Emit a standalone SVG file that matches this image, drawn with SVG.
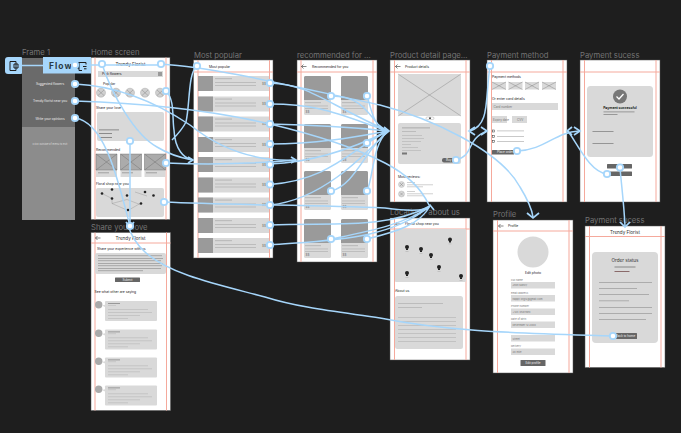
<svg xmlns="http://www.w3.org/2000/svg" width="681" height="433" viewBox="0 0 681 433">
<style>
text{font-family:"Inter","Liberation Sans",sans-serif}
.t{font-size:7.700px;fill:#747474}
.f{fill:#fff;stroke:#555;stroke-width:.5}
.g{stroke:#f5a99c;stroke-width:1;fill:none}
.c{fill:#d9d9d9}
.m{fill:#9a9a9a}
.d{fill:#666}
.l{fill:#bcbcbc}
.x{stroke:#777;stroke-width:.4;fill:none}
.s{font-size:3.400px;fill:#222}
.s2{font-size:3px;fill:#777}
.b{font-size:4.600px;fill:#333}
.w{font-size:3px;fill:#eee}
.k{fill:none;stroke:#a6d6fb;stroke-width:1.500}
.o{fill:#fff;stroke:#a6d6fb;stroke-width:1.800}
.a{fill:none;stroke:#a6d6fb;stroke-width:1.700}
</style>
<defs>
<g id="row"><rect width="71" height="15" class="c"/><rect width="15" height="15" class="m"/><rect x="17" y="2" width="17" height="1.200" class="l"/><rect x="17" y="6" width="41" height="1" class="l"/><rect x="17" y="9" width="41" height="1" class="l"/><text x="64" y="8.500" class="s2">$$</text></g>
<g id="card"><rect width="27" height="39" rx="1.500" class="c"/><path d="M0 1.500a1.500 1.500 0 0 1 1.500-1.500h24a1.500 1.500 0 0 1 1.500 1.500v22.500h-27z" class="m"/><rect x="1" y="26" width="16" height="1.200" class="l"/><rect x="1" y="29.500" width="23" height=".9" class="l"/><rect x="1" y="32" width="23" height=".9" class="l"/><text x="1.500" y="37" class="s2">$$</text></g>
<g id="cm"><circle cx="3.700" cy="3.700" r="3.700" fill="#aaa"/><path d="M7 4.500l4 2v-3z" class="c"/><rect x="10" y="0" width="52" height="20" rx="1" class="c"/><rect x="13" y="2" width="12" height=".8" fill="#888"/><rect x="13" y="4" width="8" height=".6" class="l"/><rect x="13" y="8" width="40" height=".7" class="l"/><rect x="13" y="11" width="44" height=".7" class="l"/><rect x="13" y="14" width="32" height=".7" class="l"/><rect x="13" y="17" width="20" height=".7" class="l"/></g>
<g id="ph"><rect width="14" height="7.500" class="c"/><path d="M0 0l14 7.500M14 0L0 7.500" class="x"/></g>
<g id="pin"><circle r="2" fill="#222"/><path d="M-1 1.500h2v1.500h-2z" fill="#222"/><rect x="-1.500" y="4" width="3" height=".8" class="l"/></g>
<g id="back"><path d="M-2.500 0h5M-2.500 0l2-2M-2.500 0l2 2" stroke="#333" stroke-width=".6" fill="none"/></g>
</defs>
<rect width="681" height="433" fill="#1e1e1e"/>

<g id="frame-1"><text x="22" y="55" class="t">Frame 1</text>
<rect x="22" y="58" width="53" height="69" fill="#6a6a6a"/><rect x="22" y="127" width="53" height="93" fill="#8c8c8c"/>
<text x="50" y="85" text-anchor="middle" style="font-size:3.200px" fill="#eee">Suggested flowers</text>
<text x="50" y="102" text-anchor="middle" style="font-size:3.200px" fill="#eee">Trendy florist near you</text>
<text x="50" y="119.500" text-anchor="middle" style="font-size:3.200px" fill="#eee">Write your opinions</text>
<text x="50" y="144.500" text-anchor="middle" style="font-size:2.600px" fill="#ddd">Click outside of menu to exit</text></g>

<g id="home-screen"><text x="91" y="54.500" class="t">Home screen</text>
<rect x="91" y="57.500" width="79" height="162" class="f"/>
<path class="g" d="M95 57.500v162M166 57.500v162"/>
<text x="130.500" y="66" text-anchor="middle" class="b">Trendy Florist</text>
<rect x="98" y="71" width="65" height="6" class="c"/><text x="102" y="75.300" class="s">Pick flowers</text><rect x="158" y="72" width="4" height="4" class="m"/>
<text x="103" y="85" class="s">Popular</text>
<g fill="#d0d0d0" stroke="#999" stroke-width=".4"><circle cx="101" cy="92.700" r="4.500"/><circle cx="116" cy="92.700" r="4.500"/><circle cx="130" cy="92.700" r="4.500"/><circle cx="145" cy="92.700" r="4.500"/><circle cx="160" cy="92.700" r="4.500"/></g>
<path class="x" d="M98 90l6 5.500M104 90l-6 5.500M113 90l6 5.500M119 90l-6 5.500M127 90l6 5.500M133 90l-6 5.500M142 90l6 5.500M148 90l-6 5.500M157 90l6 5.500M163 90l-6 5.500"/>
<text x="96" y="108.500" class="s">Share your love</text>
<rect x="97" y="112" width="67" height="29" rx="2" class="c"/>
<rect x="99" y="129.500" width="20" height=".8" fill="#777"/><rect x="99" y="133" width="13" height=".8" fill="#777"/><rect x="99" y="137" width="13" height=".8" fill="#777"/>
<text x="96" y="151" class="s">Recommended</text>
<g class="c"><rect x="96" y="154" width="21" height="23"/><rect x="120.500" y="154" width="21" height="23"/><rect x="144.500" y="154" width="21" height="23"/></g>
<g fill="#ababab" stroke="#666" stroke-width=".4"><path d="M96 154h21v16h-21zl21 16M117 154l-21 16"/><path d="M120.500 154h21v16h-21zl21 16M141.500 154l-21 16"/><path d="M144.500 154h21v16h-21zl21 16M165.500 154l-21 16"/></g>
<rect x="98" y="172.500" width="11" height=".7" fill="#888"/><rect x="122" y="172.500" width="11" height=".7" fill="#888"/><rect x="146" y="172.500" width="11" height=".7" fill="#888"/>
<text x="96" y="185" class="s">Floral shop near you</text>
<rect x="96" y="188" width="68" height="29" rx="2" class="c"/>
<path d="M102 193.500l10 5v5l16 7 12-7M112 203.500l15-4 13 5M135 192l12 4" stroke="#777" stroke-width=".3" fill="none"/>
<g fill="#222"><circle cx="102" cy="193.500" r="1.300"/><circle cx="112" cy="189.500" r="1.300"/><circle cx="112" cy="198.500" r="1.300"/><circle cx="127" cy="195.500" r="1.300"/><circle cx="141" cy="203.500" r="1.300"/><circle cx="128" cy="210" r="1.300"/><circle cx="145" cy="192" r="1.300"/><circle cx="153.500" cy="195.500" r="1.300"/></g></g>

<g id="share-your-love"><text x="91" y="229.500" class="t">Share your love</text>
<rect x="91" y="232.500" width="79.500" height="178" class="f"/>
<path class="g" d="M95 232.500v178M166.500 232.500v178M91 243h79.500"/>
<use href="#back" x="98" y="238"/>
<text x="130.500" y="240" text-anchor="middle" class="b">Trendy Florist</text>
<text x="97" y="249.500" class="s">Share your experience with us</text>
<rect x="95" y="253" width="71" height="21" rx="2" class="c"/>
<g fill="#888"><rect x="98" y="255.500" width="64" height=".6"/><rect x="98" y="258" width="65" height=".6"/><rect x="98" y="260.500" width="63" height=".6"/><rect x="98" y="263" width="65" height=".6"/><rect x="98" y="265.500" width="64" height=".6"/><rect x="98" y="268" width="63" height=".6"/><rect x="98" y="270.500" width="45" height=".6"/></g>
<rect x="115" y="277.500" width="25" height="4.500" rx=".5" class="d"/><text x="127.500" y="280.800" text-anchor="middle" class="w">Submit</text>
<text x="94.500" y="293" class="s">See what other are saying</text>
<use href="#cm" x="95" y="301"/><use href="#cm" x="95" y="329.500"/><use href="#cm" x="95" y="357.500"/><use href="#cm" x="95" y="385.500"/></g>

<g id="most-popular"><text x="194" y="57.500" class="t">Most popular</text>
<rect x="193.500" y="60" width="79.500" height="198" class="f"/>
<path class="g" d="M198 60v198M269.500 60v198M193.500 72h79.500"/>
<text x="209" y="67.500" class="s">Most popular</text>
<use href="#row" x="198" y="76"/><use href="#row" x="198" y="96.500"/><use href="#row" x="198" y="116.500"/><use href="#row" x="198" y="137"/><use href="#row" x="198" y="157"/><use href="#row" x="198" y="177.500"/><use href="#row" x="198" y="197.500"/><use href="#row" x="198" y="218"/><use href="#row" x="198" y="238"/></g>

<g id="recommended"><text x="297" y="57.500" class="t">recommended for ...</text>
<rect x="297" y="60" width="80" height="202" class="f"/>
<path class="g" d="M301 60v202M373 60v202M297 72h80"/>
<use href="#back" x="304" y="66.500"/><text x="312" y="67.500" class="s">Recommended for you</text>
<use href="#card" x="304" y="76"/><use href="#card" x="341" y="76"/><use href="#card" x="304" y="124"/><use href="#card" x="341" y="124"/><use href="#card" x="304" y="171"/><use href="#card" x="341" y="171"/><use href="#card" x="304" y="219"/><use href="#card" x="341" y="219"/></g>

<g id="product-detail"><text x="390" y="57.500" class="t">Product detail page...</text>
<rect x="390" y="60" width="80" height="142" class="f"/>
<path class="g" d="M394.500 60v142M466 60v142M390 72h80"/>
<use href="#back" x="398" y="66.500"/><text x="405" y="67.500" class="s">Product details</text>
<rect x="398" y="74" width="63" height="42" rx="2" class="c"/><path class="x" d="M398 74l63 42M461 74l-63 42"/>
<rect x="426" y="117" width="8" height="2.500" rx="1.200" fill="#fff" stroke="#777" stroke-width=".3"/><circle cx="430" cy="118.200" r=".9" fill="#333"/>
<rect x="398" y="123" width="63" height="41" rx="2" class="c"/>
<rect x="402" y="127" width="28" height="1.600" class="l"/><rect x="402" y="131" width="14" height="1" class="l"/><rect x="402" y="135" width="20" height=".8" class="l"/><rect x="402" y="138" width="22" height=".8" class="l"/><rect x="402" y="141" width="19" height=".8" class="l"/><rect x="402" y="144" width="9" height=".8" class="l"/><rect x="402" y="147" width="16" height=".8" class="l"/><rect x="402" y="150" width="19" height=".8" class="l"/>
<rect x="402" y="152.500" width="5" height="2" fill="#777"/>
<rect x="442" y="158" width="16" height="4.500" rx="2" class="d"/><text x="446" y="161.200" class="w">Buy</text>
<text x="398" y="178" class="s">Most reviews:</text>
<circle cx="401.500" cy="184.500" r="3" class="c" stroke="#999" stroke-width=".3"/><path class="x" d="M400 183l3 3M403 183l-3 3"/><circle cx="401.500" cy="194" r="3" class="c" stroke="#999" stroke-width=".3"/><path class="x" d="M400 192.500l3 3M403 192.500l-3 3"/>
<rect x="407" y="182" width="8" height=".7" class="l"/><rect x="407" y="184.500" width="26" height=".7" class="l"/><rect x="407" y="186.500" width="16" height=".7" class="l"/><rect x="407" y="191" width="8" height=".7" class="l"/><rect x="407" y="193.500" width="26" height=".7" class="l"/><rect x="407" y="195.500" width="16" height=".7" class="l"/></g>

<g id="payment-method"><text x="487" y="57.500" class="t">Payment method</text>
<rect x="487" y="60" width="80" height="142" class="f"/>
<path class="g" d="M491.500 60v142M563 60v142M487 72h80"/>
<text x="492" y="77.500" class="s">Payment methods</text>
<use href="#ph" x="492" y="82"/><use href="#ph" x="508.500" y="82"/><use href="#ph" x="525" y="82"/><use href="#ph" x="542" y="82"/>
<text x="492" y="99.500" class="s">Or enter card details</text>
<rect x="492" y="103" width="66" height="7" class="c"/><text x="493.500" y="107.500" class="s2">Card number</text>
<rect x="492" y="116" width="15" height="7" class="c"/><text x="493" y="120.500" class="s2">Expiry date</text>
<rect x="512" y="116" width="15" height="7" class="c"/><text x="517" y="120.500" class="s2">CVV</text>
<g fill="none" stroke="#333" stroke-width=".5"><rect x="492.500" y="130" width="2" height="2"/><rect x="492.500" y="135.500" width="2" height="2"/><rect x="492.500" y="140.500" width="2" height="2"/></g>
<rect x="497" y="130.500" width="27" height=".8" class="l"/><rect x="497" y="136" width="27" height=".8" class="l"/><rect x="497" y="141" width="27" height=".8" class="l"/>
<rect x="492" y="150" width="22" height="4.500" rx=".5" class="d"/><text x="497" y="153.300" class="w">Place order</text></g>

<g id="payment-success"><text x="580" y="57.500" class="t">Payment sucess</text>
<rect x="580" y="60" width="80" height="142" class="f"/>
<path class="g" d="M584.500 60v142M656 60v142M580 72h80"/>
<rect x="587" y="86" width="66" height="71" rx="3.500" class="c"/>
<circle cx="620" cy="96.500" r="7" fill="#777"/><path d="M616.500 96.500l2.500 2.500 4.500-5" stroke="#fff" stroke-width="1.300" fill="none"/>
<text x="620" y="108.500" text-anchor="middle" class="s" style="font-weight:700">Payment successful</text>
<rect x="603.500" y="111.500" width="31" height=".8" fill="#888"/><rect x="603.500" y="114" width="14" height=".8" fill="#888"/>
<rect x="592.500" y="131" width="21" height=".7" fill="#777"/><rect x="592.500" y="143" width="21" height=".7" fill="#777"/>
<rect x="607" y="164" width="25" height="4.500" rx=".5" class="d"/><rect x="607" y="171.500" width="25" height="4.500" rx=".5" class="d"/></g>

<g id="location"><text x="390" y="214.500" class="t">Location / about us</text>
<rect x="390" y="218" width="80" height="142" class="f"/>
<path class="g" d="M394.500 218v142M466 218v142M390 229h80"/>
<use href="#back" x="398" y="224"/><text x="405" y="225" class="s">Florist shop near you</text>
<rect x="395" y="229" width="71" height="53" rx="1" class="c"/>
<use href="#pin" x="407" y="247"/><use href="#pin" x="421" y="249"/><use href="#pin" x="431" y="255"/><use href="#pin" x="439" y="267"/><use href="#pin" x="407" y="273"/><use href="#pin" x="461" y="276"/><use href="#pin" x="450" y="239.500"/>
<text x="395" y="292" class="s">About us</text>
<rect x="395" y="296" width="68" height="53" rx="2.500" class="c"/>
<rect x="398" y="303" width="45" height="1" class="l"/><rect x="398" y="307" width="24" height="1" class="l"/>
<g class="l"><rect x="398" y="317" width="58" height=".8"/><rect x="398" y="321" width="58" height=".8"/><rect x="398" y="325" width="58" height=".8"/><rect x="398" y="329" width="58" height=".8"/><rect x="398" y="333" width="58" height=".8"/><rect x="398" y="337" width="58" height=".8"/><rect x="398" y="341" width="58" height=".8"/></g></g>

<g id="profile"><text x="493" y="217" class="t">Profile</text>
<rect x="493" y="220" width="80" height="153" class="f"/>
<path class="g" d="M497.500 220v153M569 220v153M493 231h80"/>
<use href="#back" x="501" y="226"/><text x="508" y="227.300" class="s">Profile</text>
<circle cx="533" cy="252" r="15.500" class="c"/>
<text x="533" y="273.500" text-anchor="middle" class="s">Edit photo</text>
<g class="c"><rect x="511" y="282" width="44" height="6.500"/><rect x="511" y="295" width="44" height="6.500"/><rect x="511" y="308.500" width="44" height="6.500"/><rect x="511" y="321.500" width="44" height="6.500"/><rect x="511" y="335" width="44" height="6.500"/><rect x="511" y="348.500" width="44" height="6.500"/></g>
<g style="font-size:2.600px" fill="#777"><text x="511" y="280.500">Full name</text><text x="511" y="293.500">Email address</text><text x="511" y="307">Phone number</text><text x="511" y="320">Date of birth</text><text x="511" y="347">Delivery</text>
<text x="512.500" y="286">Jhon Nancy</text><text x="512.500" y="299.500">happy.org12@gmail.com</text><text x="512.500" y="313">+123 4567890</text><text x="512.500" y="326">December 12 2000</text><text x="512.500" y="339.500">Street</text><text x="512.500" y="353">20 mile</text></g>
<rect x="520.500" y="360" width="25" height="6" rx=".5" class="d"/><text x="533" y="364" text-anchor="middle" class="w">Edit profile</text></g>

<g id="payment-sucess-2"><text x="585" y="222.500" class="t">Payment sucess</text>
<rect x="585" y="226" width="80" height="141.500" class="f"/>
<path class="g" d="M589.500 226v141.500M661 226v141.500M585 236.500h80"/>
<text x="625" y="233.500" text-anchor="middle" class="b">Trendy Florist</text>
<rect x="592" y="252" width="66" height="91" rx="4" class="c"/>
<text x="625" y="261.500" text-anchor="middle" class="b">Order status</text>
<rect x="614.500" y="266.500" width="21" height="1" fill="#888"/><rect x="614.500" y="271" width="15" height="1" fill="#8a6a6a"/>
<g fill="#999"><rect x="599" y="282" width="53" height=".7"/><rect x="599" y="288" width="38" height=".7"/><rect x="599" y="294" width="50" height=".7"/><rect x="599" y="300.500" width="30" height=".7"/><rect x="599" y="307" width="53" height=".7"/><rect x="599" y="313" width="53" height=".7"/><rect x="599" y="319" width="47" height=".7"/></g>
<rect x="613" y="333" width="24" height="6" rx=".5" class="d"/><text x="625.500" y="337" text-anchor="middle" class="w">Back to home</text></g>

<g id="connectors">
<path class="k" d="M22 65.500H43M75 65h27H161"/>
<path class="k" d="M102 64C112 95 135 135 157 147C170 155 182 158 192 160"/>
<path class="k" d="M161 64C220 68 300 88 380 105C430 118 500 150 520 187C528 200 532 210 533 217"/>
<path class="k" d="M166 91C175 100 172 118 174 130C175 150 184 158 192 160M197 66C188 72 190 105 186 122C182 130 176 136 172 140"/>
<path class="k" d="M75 84C120 86 160 105 190 125C215 145 250 162 296 160"/>
<path class="k" d="M75 101C140 103 210 110 270 124C320 136 360 150 385 163C410 176 422 190 429 205"/>
<path class="k" d="M75 118C105 122 118 180 130 226"/>
<path class="k" d="M130 141V226"/>
<path class="k" d="M166 163C190 164 240 165 296 160"/>
<path class="k" d="M164 202C230 205 310 205 385 208C400 210 425 212 430 206"/>
<path class="k" d="M613 336C520 333 450 332 380 318C340 312 300 308 265 297C220 285 170 275 145 252C135 243 130 232 128 225"/>
<path class="k" d="M270 83C310 85 320 100 388 131M270 104C320 104 340 115 388 131M270 124C320 125 360 128 388 131M270 144C320 144 360 136 388 131M270 164C320 162 360 145 388 131M270 184.500C330 180 350 150 388 131M270 205C320 200 360 160 388 131"/>
<path class="k" d="M331 96C370 96 370 125 388 131M367 96C372 110 372 125 388 131M367 143C372 140 378 135 388 131M331 191C355 185 365 150 388 131M367 191C374 175 372 145 388 131"/>
<path class="k" d="M270 225C330 222 385 230 430 206M270 245C330 240 390 240 430 206M331 239C365 232 405 225 430 206M367 239C395 232 420 225 430 206"/>
<path class="k" d="M456 160C475 155 465 140 487 131M490 66C485 100 490 125 470 131"/>
<path class="k" d="M517 151C545 150 555 132 579 131M607 174C590 172 578 145 568 131"/>
<path class="k" d="M620 168C622 190 624 205 625 226"/>
<path class="a" d="M384 127l5 4-5 4M481 127l6 4-6 4M475 127l-6 4 6 4M574 127l6 4-6 4M572 127l-5 4 5 4M291 157l5 3-5 3M188 157l5 3-5 3M527 213l6 5 6-5M620 222l5 5 5-5M426 210l4-5 4 5M126 222l4 5 4-5"/>
<g class="o"><circle cx="75" cy="84" r="3.200"/><circle cx="75" cy="101" r="3.200"/><circle cx="75" cy="118" r="3.200"/>
<circle cx="102" cy="64" r="3.200"/><circle cx="161" cy="64" r="3.200"/><circle cx="166" cy="91" r="3.200"/><circle cx="130" cy="141" r="3.200"/><circle cx="166" cy="163" r="3.200"/><circle cx="164" cy="202" r="3.200"/><circle cx="130" cy="226" r="3.200"/>
<circle cx="197" cy="66" r="3.200"/><circle cx="270" cy="83" r="3.200"/><circle cx="270" cy="104" r="3.200"/><circle cx="270" cy="124" r="3.200"/><circle cx="270" cy="144" r="3.200"/><circle cx="270" cy="164.500" r="3.200"/><circle cx="270" cy="184.500" r="3.200"/><circle cx="270" cy="205" r="3.200"/><circle cx="270" cy="225" r="3.200"/><circle cx="270" cy="245" r="3.200"/>
<circle cx="331" cy="96" r="3.200"/><circle cx="367" cy="96" r="3.200"/><circle cx="367" cy="143" r="3.200"/><circle cx="331" cy="191" r="3.200"/><circle cx="367" cy="191" r="3.200"/><circle cx="331" cy="239" r="3.200"/><circle cx="367" cy="239" r="3.200"/>
<circle cx="456" cy="160" r="3.200"/><circle cx="490" cy="66" r="3.200"/><circle cx="517" cy="151" r="3.200"/><circle cx="607" cy="174" r="3.200"/><circle cx="620" cy="167.500" r="3.200"/><circle cx="613" cy="336" r="3.200"/></g>
</g>

<g id="flow-badges">
<path d="M8 57h13a1 1 0 0 1 1 1v15a1 1 0 0 1-1 1H8a3 3 0 0 1-3-3V60a3 3 0 0 1 3-3z" fill="#a6d6fb"/>
<path d="M10 61.500h6v9h-6zM14 64h4v4h-4z" fill="none" stroke="#1e1e1e" stroke-width="1"/>
<rect x="43" y="57" width="48" height="16.500" fill="#a6d6fb"/>
<text x="49" y="69" style="font-size:8.500px;font-weight:700" fill="#2a3a46" letter-spacing="1">Flow 1</text>
<path d="M79 62.500h7v2M79 62.500v8h3M83 66.500h3.500M84 68.800h2.500" fill="none" stroke="#1e1e1e" stroke-width="1"/>
<circle cx="75" cy="65" r="3.200" class="o"/>
</g>
</svg>
